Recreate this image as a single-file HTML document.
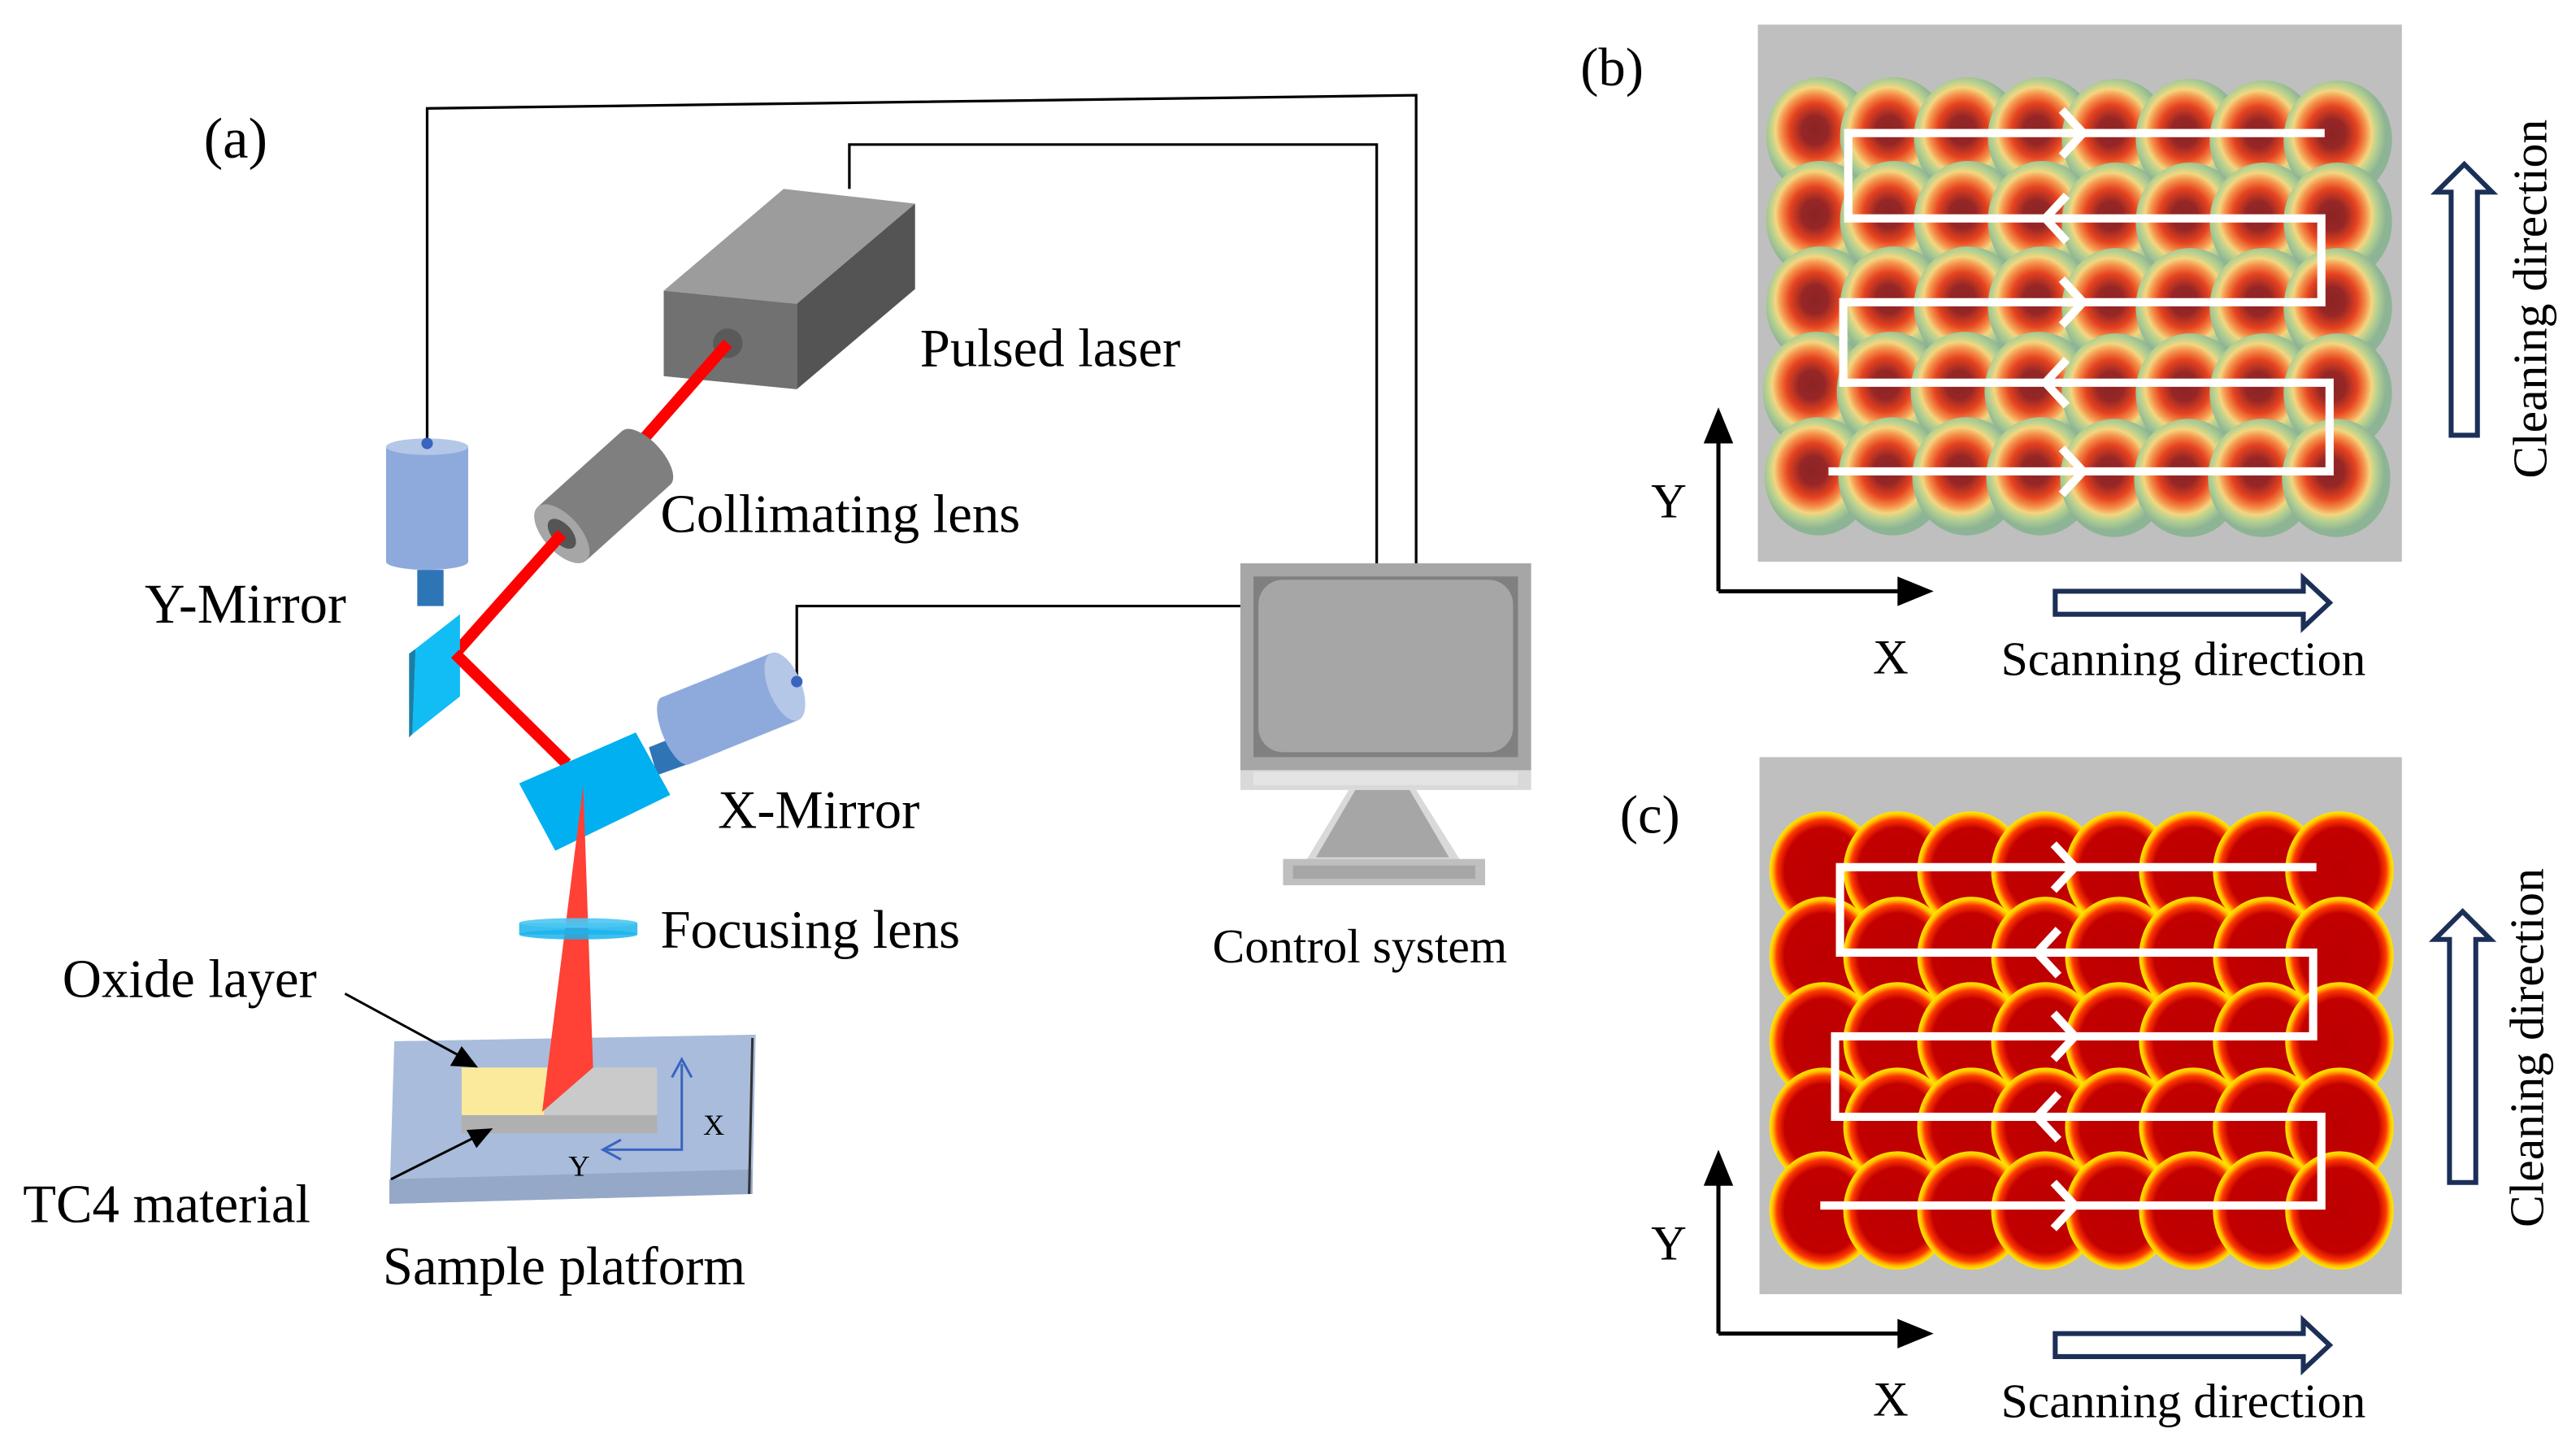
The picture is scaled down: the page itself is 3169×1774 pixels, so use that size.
<!DOCTYPE html>
<html><head><meta charset="utf-8"><style>
html,body{margin:0;padding:0;background:#fff;}
svg{display:block;}
text{font-family:"Liberation Serif",serif;fill:#000;}
</style></head><body>
<svg width="3169" height="1774" viewBox="0 0 1568 878" preserveAspectRatio="none" xmlns="http://www.w3.org/2000/svg">
<defs>
<radialGradient id="gb" cx="0.45" cy="0.45" r="0.55">
<stop offset="0" stop-color="#8b2424"/><stop offset="0.22" stop-color="#962626"/><stop offset="0.42" stop-color="#e5431f"/><stop offset="0.56" stop-color="#f5904a"/><stop offset="0.66" stop-color="#f3d680"/><stop offset="0.76" stop-color="#b6d190"/><stop offset="0.9" stop-color="#8db495"/><stop offset="1" stop-color="#8db495"/>
</radialGradient>
<radialGradient id="gc" cx="0.5" cy="0.5" r="0.5">
<stop offset="0" stop-color="#bb0000"/><stop offset="0.72" stop-color="#c20000"/><stop offset="0.86" stop-color="#ff3a00"/><stop offset="0.94" stop-color="#ffc000"/><stop offset="1" stop-color="#ffea00"/>
</radialGradient>
<g id="pathb" fill="none" stroke="#fff" stroke-width="5">
<polyline points="1415,81 1125,81 1125,133 1413,133 1413,184 1122,184 1122,233 1418,233 1418,287 1113,287"/>
<polyline points="1255,67 1268,81 1255,95"/>
<polyline points="1258,119 1245,133 1258,147"/>
<polyline points="1255,170 1268,184 1255,198"/>
<polyline points="1258,219 1245,233 1258,247"/>
<polyline points="1255,273 1268,287 1255,301"/>
</g>
</defs>

<!-- Panel b -->
<rect x="1070" y="15" width="392" height="327" fill="#bfbfbf"/>
<g fill="url(#gb)">
<ellipse cx="1108" cy="83" rx="33" ry="36"/><ellipse cx="1153" cy="83" rx="33" ry="36"/><ellipse cx="1198" cy="83" rx="33" ry="36"/><ellipse cx="1243" cy="83" rx="33" ry="36"/><ellipse cx="1288" cy="84" rx="33" ry="36"/><ellipse cx="1333" cy="84" rx="33" ry="36"/><ellipse cx="1378" cy="85" rx="33" ry="36"/><ellipse cx="1423" cy="85" rx="33" ry="36"/>
<ellipse cx="1108" cy="134" rx="33" ry="36"/><ellipse cx="1153" cy="134" rx="33" ry="36"/><ellipse cx="1198" cy="134" rx="33" ry="36"/><ellipse cx="1243" cy="134" rx="33" ry="36"/><ellipse cx="1288" cy="135" rx="33" ry="36"/><ellipse cx="1333" cy="135" rx="33" ry="36"/><ellipse cx="1378" cy="135" rx="33" ry="36"/><ellipse cx="1423" cy="135" rx="33" ry="36"/>
<ellipse cx="1108" cy="186" rx="33" ry="36"/><ellipse cx="1153" cy="186" rx="33" ry="36"/><ellipse cx="1198" cy="186" rx="33" ry="36"/><ellipse cx="1243" cy="186" rx="33" ry="36"/><ellipse cx="1288" cy="187" rx="33" ry="36"/><ellipse cx="1333" cy="187" rx="33" ry="36"/><ellipse cx="1378" cy="187" rx="33" ry="36"/><ellipse cx="1423" cy="187" rx="33" ry="36"/>
<ellipse cx="1106" cy="238" rx="33" ry="36"/><ellipse cx="1151" cy="238" rx="33" ry="36"/><ellipse cx="1196" cy="238" rx="33" ry="36"/><ellipse cx="1241" cy="238" rx="33" ry="36"/><ellipse cx="1288" cy="239" rx="33" ry="36"/><ellipse cx="1333" cy="239" rx="33" ry="36"/><ellipse cx="1378" cy="239" rx="33" ry="36"/><ellipse cx="1423" cy="239" rx="33" ry="36"/>
<ellipse cx="1107" cy="290" rx="33" ry="36"/><ellipse cx="1152" cy="290" rx="33" ry="36"/><ellipse cx="1197" cy="290" rx="33" ry="36"/><ellipse cx="1242" cy="290" rx="33" ry="36"/><ellipse cx="1287" cy="291" rx="33" ry="36"/><ellipse cx="1332" cy="291" rx="33" ry="36"/><ellipse cx="1377" cy="291" rx="33" ry="36"/><ellipse cx="1422" cy="291" rx="33" ry="36"/>
</g>
<use href="#pathb"/>

<!-- Panel c -->
<rect x="1071" y="461" width="391" height="327" fill="#bfbfbf"/>
<g transform="translate(0,447)" fill="url(#gc)">
<ellipse cx="1110" cy="83" rx="33" ry="36"/><ellipse cx="1155" cy="83" rx="33" ry="36"/><ellipse cx="1200" cy="83" rx="33" ry="36"/><ellipse cx="1245" cy="83" rx="33" ry="36"/><ellipse cx="1290" cy="83" rx="33" ry="36"/><ellipse cx="1335" cy="83" rx="33" ry="36"/><ellipse cx="1380" cy="83" rx="33" ry="36"/><ellipse cx="1424" cy="83" rx="33" ry="36"/>
<ellipse cx="1110" cy="135" rx="33" ry="36"/><ellipse cx="1155" cy="135" rx="33" ry="36"/><ellipse cx="1200" cy="135" rx="33" ry="36"/><ellipse cx="1245" cy="135" rx="33" ry="36"/><ellipse cx="1290" cy="135" rx="33" ry="36"/><ellipse cx="1335" cy="135" rx="33" ry="36"/><ellipse cx="1380" cy="135" rx="33" ry="36"/><ellipse cx="1424" cy="135" rx="33" ry="36"/>
<ellipse cx="1110" cy="187" rx="33" ry="36"/><ellipse cx="1155" cy="187" rx="33" ry="36"/><ellipse cx="1200" cy="187" rx="33" ry="36"/><ellipse cx="1245" cy="187" rx="33" ry="36"/><ellipse cx="1290" cy="187" rx="33" ry="36"/><ellipse cx="1335" cy="187" rx="33" ry="36"/><ellipse cx="1380" cy="187" rx="33" ry="36"/><ellipse cx="1424" cy="187" rx="33" ry="36"/>
<ellipse cx="1110" cy="239" rx="33" ry="36"/><ellipse cx="1155" cy="239" rx="33" ry="36"/><ellipse cx="1200" cy="239" rx="33" ry="36"/><ellipse cx="1245" cy="239" rx="33" ry="36"/><ellipse cx="1290" cy="239" rx="33" ry="36"/><ellipse cx="1335" cy="239" rx="33" ry="36"/><ellipse cx="1380" cy="239" rx="33" ry="36"/><ellipse cx="1424" cy="239" rx="33" ry="36"/>
<ellipse cx="1110" cy="290" rx="33" ry="36"/><ellipse cx="1155" cy="290" rx="33" ry="36"/><ellipse cx="1200" cy="290" rx="33" ry="36"/><ellipse cx="1245" cy="290" rx="33" ry="36"/><ellipse cx="1290" cy="290" rx="33" ry="36"/><ellipse cx="1335" cy="290" rx="33" ry="36"/><ellipse cx="1380" cy="290" rx="33" ry="36"/><ellipse cx="1424" cy="290" rx="33" ry="36"/>
</g>
<g transform="translate(-5,447)"><use href="#pathb"/></g>

<!-- axes -->
<g stroke="#000" stroke-width="2.5" fill="none">
<line x1="1046" y1="360" x2="1046" y2="262"/><line x1="1046" y1="360" x2="1162" y2="360"/>
<line x1="1046" y1="812" x2="1046" y2="714"/><line x1="1046" y1="812" x2="1162" y2="812"/>
</g>
<g fill="#000">
<polygon points="1046,248 1037,270 1055,270"/><polygon points="1177,360 1155,351 1155,369"/>
<polygon points="1046,700 1037,722 1055,722"/><polygon points="1177,812 1155,803 1155,821"/>
</g>
<text x="1005" y="315" font-size="30">Y</text>
<text x="1140" y="410" font-size="30">X</text>
<text x="1005" y="767" font-size="30">Y</text>
<text x="1140" y="862" font-size="30">X</text>

<!-- block arrows -->
<g fill="#fff" stroke="#1b2f57" stroke-width="3">
<polygon points="1251,360 1402,360 1402,352 1418,367 1402,382 1402,374 1251,374"/>
<polygon points="1251,812 1402,812 1402,804 1418,819 1402,834 1402,826 1251,826"/>
<polygon points="1492,265 1492,117 1483,117 1500,100 1517,117 1508,117 1508,265"/>
<polygon points="1491,720 1491,572 1482,572 1499,555 1516,572 1507,572 1507,720"/>
</g>
<text x="1329" y="411" font-size="29.5" text-anchor="middle">Scanning direction</text>
<text x="1329" y="863" font-size="29.5" text-anchor="middle">Scanning direction</text>
<text transform="translate(1550,182) rotate(-90)" font-size="29.5" text-anchor="middle">Cleaning direction</text>
<text transform="translate(1548,638) rotate(-90)" font-size="29.5" text-anchor="middle">Cleaning direction</text>
<text x="962" y="52" font-size="33">(b)</text>
<text x="986" y="507" font-size="33">(c)</text>

<!-- Panel a -->
<text x="124" y="96" font-size="35">(a)</text>
<g stroke="#000" stroke-width="1.6" fill="none">
<polyline points="260,270 260,66 862,58 862,343"/>
<polyline points="517,115 517,88 838,88 838,343"/>
<polyline points="485,415 485,369 755,369"/>
</g>
<!-- laser box -->
<polygon points="404,177 477,115 557,124 485,185" fill="#9c9c9c"/>
<polygon points="485,185 557,124 557,176 485,237" fill="#545454"/>
<polygon points="404,177 485,185 485,237 404,229" fill="#717171"/>
<circle cx="443" cy="209" r="9" fill="#5a5a5a"/>
<line x1="443" y1="209" x2="385" y2="275" stroke="#ff0000" stroke-width="7"/>
<!-- collimator -->
<g transform="translate(342,325) rotate(-42)">
<rect x="0" y="-22" width="69" height="44" fill="#7f7f7f"/>
<ellipse cx="69" cy="0" rx="10" ry="22" fill="#7f7f7f"/>
<ellipse cx="0" cy="0" rx="11" ry="22" fill="#a6a6a6"/>
<ellipse cx="0" cy="0" rx="6" ry="11" fill="#555"/>
</g>
<g stroke="#ff0000" stroke-width="7" fill="none">
<polyline points="342,325 277,398 345,465"/>
</g>
<!-- Y motor -->
<rect x="235" y="272" width="50" height="70" fill="#8eaadc"/>
<ellipse cx="260" cy="272" rx="25" ry="5" fill="#b4c7e7"/>
<ellipse cx="260" cy="342" rx="25" ry="5" fill="#8eaadc"/>
<circle cx="260" cy="270" r="3.5" fill="#3a64c0"/>
<rect x="254" y="347" width="16" height="22" fill="#2e75b6"/>
<polygon points="253,395 280,374 280,424 251,447" fill="#12bdf5"/>
<polygon points="249,398 253,395 251,447 249,449" fill="#1a7fa8"/>
<line x1="345" y1="465" x2="277" y2="398" stroke="#ff0000" stroke-width="7"/>
<!-- X motor -->
<polygon points="395,455 420,445 425,463 400,472" fill="#2e75b6"/>
<g transform="translate(411,445) rotate(-22)">
<rect x="0" y="-22" width="72" height="44" fill="#8eaadc"/>
<ellipse cx="72" cy="0" rx="10" ry="22" fill="#b4c7e7"/>
<ellipse cx="0" cy="0" rx="8" ry="22" fill="#8eaadc"/>
</g>
<circle cx="485" cy="415" r="3.5" fill="#3a64c0"/>
<!-- X mirror -->
<polygon points="316,477 387,446 408,484 338,518" fill="#00b0f0"/>
<!-- platform -->
<polygon points="240,634 460,630 458,727 237,733" fill="#a9bcdb"/>
<polygon points="237,718 458,712 458,727 237,733" fill="#95a8c8"/>
<line x1="458" y1="632" x2="456" y2="727" stroke="#333" stroke-width="1.5"/>
<!-- sample -->
<rect x="281" y="650" width="52" height="29" fill="#fcea9c"/>
<polygon points="333,650 400,650 400,679 331,679" fill="#cacaca"/>
<rect x="281" y="679" width="119" height="11" fill="#b0b0b0"/>
<!-- cone -->
<polygon points="355,478 330,677 361,650" fill="#ff4136"/>
<!-- focus lens -->
<rect x="316" y="562" width="72" height="7" fill="#1ab4ec" opacity="0.85"/>
<ellipse cx="352" cy="562" rx="36" ry="3" fill="#4cc6f2" opacity="0.9"/>
<ellipse cx="352" cy="569" rx="36" ry="3" fill="#1ab4ec" opacity="0.85"/>
<!-- small axes -->
<g stroke="#3a64c0" stroke-width="1.5" fill="none">
<polyline points="415,648 415,700 368,700"/>
<polyline points="409,656 415,645 421,656"/>
<polyline points="378,694 367,700 378,706"/>
</g>
<text x="428" y="691" font-size="18" font-family="Liberation Sans, sans-serif">X</text>
<text x="346" y="716" font-size="18" font-family="Liberation Sans, sans-serif">Y</text>
<g stroke="#000" stroke-width="1.5"><line x1="210" y1="605" x2="280" y2="643"/><line x1="238" y1="718" x2="290" y2="692"/></g>
<polygon points="291,650 274,649 281,637" fill="#000"/>
<polygon points="300,687 284,688 290,699" fill="#000"/>

<!-- monitor -->
<rect x="755" y="343" width="177" height="126" fill="#a6a6a6"/>
<rect x="763" y="351" width="161" height="110" fill="#808080"/>
<rect x="766" y="353" width="155" height="105" rx="15" fill="#a6a6a6"/>
<rect x="755" y="469" width="177" height="12" fill="#d9d9d9"/>
<rect x="763" y="470" width="161" height="8" fill="#e4e4e4"/>
<polygon points="821,481 862,481 889,524 795,524" fill="#d9d9d9"/>
<polygon points="825,481 858,481 882,522 801,522" fill="#a6a6a6"/>
<rect x="781" y="523" width="123" height="16" fill="#bfbfbf"/>
<rect x="787" y="527" width="111" height="8" fill="#a6a6a6"/>

<!-- labels -->
<g font-size="33">
<text x="560" y="223">Pulsed laser</text>
<text x="402" y="324">Collimating lens</text>
<text x="88" y="379" font-size="34">Y-Mirror</text>
<text x="437" y="504">X-Mirror</text>
<text x="402" y="577">Focusing lens</text>
<text x="38" y="607">Oxide layer</text>
<text x="14" y="744">TC4 material</text>
<text x="233" y="782">Sample platform</text>
</g>
<text x="738" y="586" font-size="29.5">Control system</text>
</svg>
</body></html>
